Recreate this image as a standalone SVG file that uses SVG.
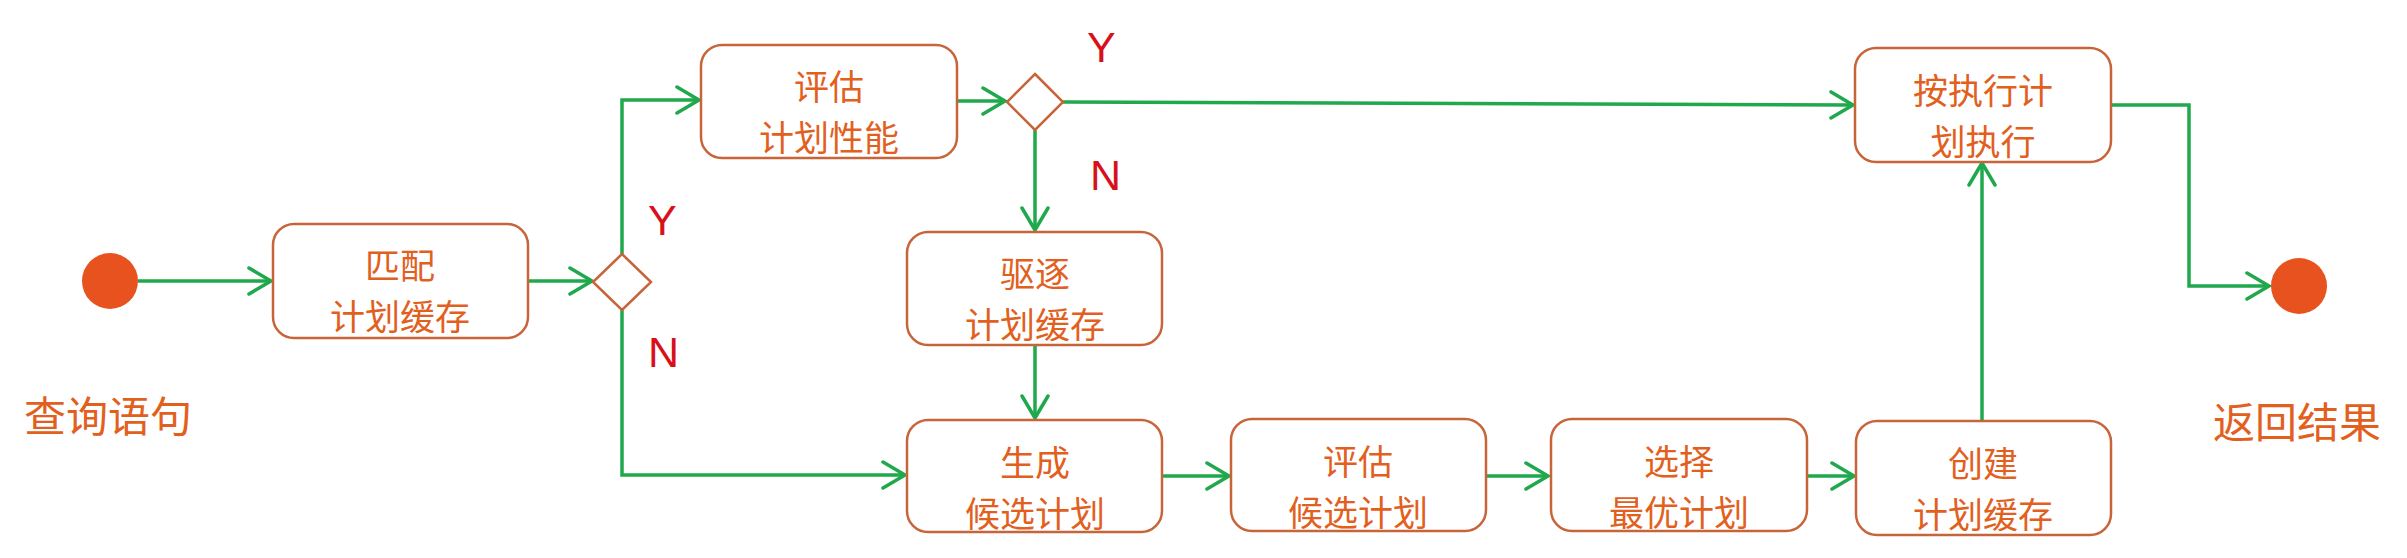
<svg xmlns="http://www.w3.org/2000/svg" width="2407" height="558" viewBox="0 0 2407 558">
<style>
.box{fill:#fff;stroke:#c8643a;stroke-width:2.5}
.dia{fill:#fff;stroke:#c8643a;stroke-width:2.5}
.t{font-family:"Noto Sans CJK SC","Noto Sans",sans-serif;font-size:35px;fill:#e2601e;text-anchor:middle;dominant-baseline:central}
.lab{font-family:"Noto Sans CJK SC","Noto Sans",sans-serif;font-size:42px;fill:#e2601e;text-anchor:middle;dominant-baseline:central}
.yn{font-family:"Liberation Sans",Arial,sans-serif;font-size:43px;fill:#d8101a}
.c{fill:none;stroke:#1fa84c;stroke-width:3.5;marker-end:url(#ah)}
.dot{fill:#e8521e}
</style>
<defs>
<marker id="ah" markerUnits="userSpaceOnUse" markerWidth="30" markerHeight="30" viewBox="0 0 30 30" refX="26" refY="15" orient="auto">
<path d="M4,2 L26,15 L4,28" fill="none" stroke="#1fa84c" stroke-width="3.5" stroke-linecap="round"/>
</marker>
</defs>
<g id="connectors">
<path class="c" d="M138,281 L271,281"/>
<path class="c" d="M528,281 L592,281"/>
<path class="c" d="M622,254 L622,100 L699,100"/>
<path class="c" d="M622,310 L622,475 L905,475"/>
<path class="c" d="M957,101 L1005,101"/>
<path class="c" d="M1063,102 L1853,105"/>
<path class="c" d="M1035,130 L1035,230"/>
<path class="c" d="M1035,345 L1035,418"/>
<path class="c" d="M1162,476 L1229,476"/>
<path class="c" d="M1486,476 L1548,476"/>
<path class="c" d="M1807,476 L1854,476"/>
<path class="c" d="M1982,421 L1982,163"/>
<path class="c" d="M2111,105 L2189,105 L2189,286 L2269,286"/>
</g>
<g id="start"><circle class="dot" cx="110" cy="281" r="28"/><text class="lab" x="108" y="413">查询语句</text></g>
<g id="end"><circle class="dot" cx="2299" cy="286" r="28"/><text class="lab" x="2297" y="419">返回结果</text></g>
<g id="match"><rect class="box" x="273" y="224" width="255" height="114" rx="21"/><text class="t" x="400" y="263">匹配</text><text class="t" x="400" y="314">计划缓存</text></g>
<g id="d1"><path class="dia" d="M622,254 L651,282 L622,310 L593,282 Z"/><text class="yn" x="648" y="235">Y</text><text class="yn" x="648" y="367">N</text></g>
<g id="evalperf"><rect class="box" x="701" y="45" width="256" height="113" rx="21"/><text class="t" x="829" y="84">评估</text><text class="t" x="829" y="135">计划性能</text></g>
<g id="d2"><path class="dia" d="M1035,74 L1063,102 L1035,130 L1007,102 Z"/><text class="yn" x="1087" y="62">Y</text><text class="yn" x="1090" y="190">N</text></g>
<g id="evict"><rect class="box" x="907" y="232" width="255" height="113" rx="21"/><text class="t" x="1035" y="271">驱逐</text><text class="t" x="1035" y="322">计划缓存</text></g>
<g id="gen"><rect class="box" x="907" y="420" width="255" height="112" rx="21"/><text class="t" x="1035" y="460">生成</text><text class="t" x="1035" y="511">候选计划</text></g>
<g id="evalcand"><rect class="box" x="1231" y="419" width="255" height="112" rx="21"/><text class="t" x="1358" y="459">评估</text><text class="t" x="1358" y="510">候选计划</text></g>
<g id="select"><rect class="box" x="1551" y="419" width="256" height="112" rx="21"/><text class="t" x="1679" y="459">选择</text><text class="t" x="1679" y="510">最优计划</text></g>
<g id="create"><rect class="box" x="1856" y="421" width="255" height="114" rx="21"/><text class="t" x="1983" y="461">创建</text><text class="t" x="1983" y="512">计划缓存</text></g>
<g id="exec"><rect class="box" x="1855" y="48" width="256" height="114" rx="21"/><text class="t" x="1983" y="88">按执行计</text><text class="t" x="1983" y="139">划执行</text></g>
</svg>
